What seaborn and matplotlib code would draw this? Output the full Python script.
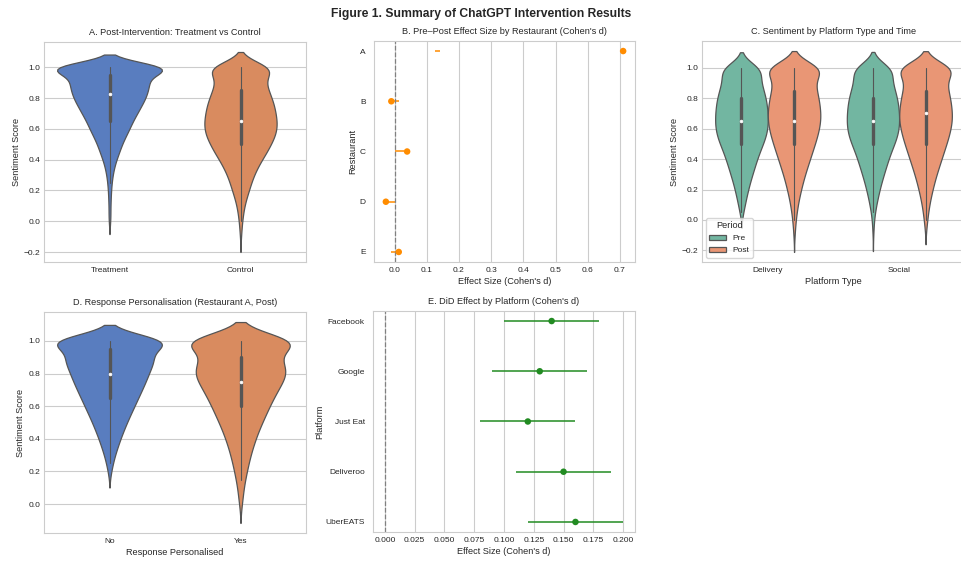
import numpy as np
import pandas as pd
import matplotlib
matplotlib.use("Agg")
import matplotlib.pyplot as plt
import seaborn as sns

# ---------------- data ----------------
# sentiment-score bins (shared by all violin panels)
score_grid = [-0.20, -0.15, -0.10, -0.05, 0.00, 0.05, 0.10, 0.15, 0.20, 0.25,
              0.30, 0.35, 0.40, 0.45, 0.50, 0.55, 0.60, 0.65, 0.70, 0.75,
              0.80, 0.85, 0.90, 0.95, 1.00]

# Panel A (post-intervention): number of reviews per sentiment-score bin
groups_a = ["Treatment", "Control"]
treatment_counts = [0, 0, 0, 0, 3, 3, 3, 4, 5, 7, 10, 15, 22, 32, 40, 52, 65, 75, 90, 103, 118, 125, 132, 120, 270]
control_counts = [0, 0, 1, 2, 3, 5, 7, 11, 16, 20, 25, 32, 40, 50, 57, 65, 69, 69, 66, 64, 59, 53, 47, 44, 87]

# Panel C: platform type x period
platform_types = ["Delivery", "Social"]
periods = ["Pre", "Post"]
pre_delivery_counts = [0, 0, 0, 0, 0, 6, 10, 15, 20, 26, 33, 40, 47, 55, 65, 74, 79, 80, 79, 77, 74, 67, 60, 52, 80]
post_delivery_counts = [0, 0, 2, 3, 5, 8, 11, 16, 21, 27, 33, 41, 48, 56, 63, 71, 76, 81, 81, 78, 75, 70, 62, 60, 135]
pre_social_counts = [0, 0, 1, 2, 3, 6, 10, 15, 20, 26, 33, 40, 47, 55, 65, 74, 79, 80, 79, 77, 74, 67, 60, 52, 80]
post_social_counts = [0, 0, 0, 3, 5, 8, 11, 16, 21, 27, 33, 41, 48, 56, 63, 71, 76, 81, 81, 78, 75, 70, 62, 60, 135]

# Panel D: Restaurant A post, response personalised
groups_d = ["No", "Yes"]
no_counts = [0, 0, 0, 0, 0, 0, 0, 0, 7, 12, 20, 30, 40, 52, 64, 78, 92, 106, 120, 134, 146, 155, 185, 110, 359]
yes_counts = [0, 0, 0, 0, 5, 7, 9, 14, 19, 24, 30, 37, 45, 54, 65, 76, 87, 99, 112, 127, 144, 142, 110, 90, 310]

# Panel B: pre-post effect size by restaurant
restaurants = ["A", "B", "C", "D", "E"]
rest_d = [0.71, -0.01, 0.039, -0.027, 0.013]
rest_ci_low = [0.127, -0.01, 0.0, -0.023, -0.01]
rest_ci_high = [0.140, 0.013, 0.029, 0.0, 0.013]

# Panel E: DiD effect by platform
platforms = ["Facebook", "Google", "Just Eat", "Deliveroo", "UberEATS"]
did_d = [0.14, 0.13, 0.12, 0.15, 0.16]
did_low = [0.10, 0.09, 0.08, 0.11, 0.12]
did_high = [0.18, 0.17, 0.16, 0.19, 0.20]
did_ticks = [0.0, 0.025, 0.05, 0.075, 0.1, 0.125, 0.15, 0.175, 0.2]


def expand(counts):
    return np.repeat(np.array(score_grid), np.array(counts))


# ---------------- style ----------------
sns.set_theme(style="whitegrid")
plt.rcParams["font.family"] = ["Liberation Sans", "DejaVu Sans"]
plt.rcParams.update({
    "font.size": 6, "axes.titlesize": 6.6, "axes.labelsize": 6.6,
    "axes.labelpad": 2.0, "axes.titlepad": 5.0,
    "xtick.labelsize": 6, "ytick.labelsize": 6,
    "legend.fontsize": 6, "legend.title_fontsize": 6.6,
    "axes.linewidth": 0.8, "grid.linewidth": 0.8,
    "xtick.major.size": 0, "ytick.major.size": 0,
    "xtick.major.pad": 3.5, "ytick.major.pad": 2.8,
})

W, H = 962, 562
fig = plt.figure(figsize=(W / 100, H / 100), dpi=100)


def rect(l, t, r, b):
    return [l / W, 1 - b / H, (r - l) / W, (b - t) / H]


axA = fig.add_axes(rect(44, 42, 306, 262))
axB = fig.add_axes(rect(374, 41, 635, 262))
axC = fig.add_axes(rect(702, 41, 965, 262))
axD = fig.add_axes(rect(44, 312, 306, 533))
axE = fig.add_axes(rect(373, 311, 635, 532))

muted = sns.color_palette("muted")
vkw = dict(linewidth=0.9, linecolor="#555555", inner="box",
           inner_kws=dict(box_width=2.4, whis_width=0.8, marker="o"))

# Panel A
dfA = pd.DataFrame({
    "Group": ["Treatment"] * sum(treatment_counts) + ["Control"] * sum(control_counts),
    "Sentiment Score": np.concatenate([expand(treatment_counts), expand(control_counts)]),
})
sns.violinplot(data=dfA, x="Group", y="Sentiment Score", hue="Group", order=groups_a,
               palette=[muted[0], muted[1]], legend=False, bw_method=0.21, common_norm=True,
               density_norm="count", ax=axA, **vkw)
axA.set_title("A. Post-Intervention: Treatment vs Control")
axA.set_xlabel("")

# Panel B
axB.hlines(y=restaurants, xmin=rest_ci_low, xmax=rest_ci_high, color="darkorange", lw=1.1)
sns.scatterplot(x=rest_d, y=restaurants, color="darkorange", s=22, edgecolor="none", ax=axB, zorder=3)
axB.axvline(0, color="gray", ls="--", lw=0.9)
if not axB.yaxis_inverted():
    axB.invert_yaxis()
axB.grid(axis="y", visible=False)
axB.tick_params(axis="y", pad=6)
axB.set_title("B. Pre\u2013Post Effect Size by Restaurant (Cohen's d)")
axB.set_xlabel("Effect Size (Cohen's d)")
axB.set_ylabel("Restaurant")

# Panel C
rowsC = []
for pt, pre_c, post_c in [("Delivery", pre_delivery_counts, post_delivery_counts),
                          ("Social", pre_social_counts, post_social_counts)]:
    for per, c in [("Pre", pre_c), ("Post", post_c)]:
        rowsC.append(pd.DataFrame({"Platform Type": pt, "Period": per, "Sentiment Score": expand(c)}))
dfC = pd.concat(rowsC, ignore_index=True)
sns.violinplot(data=dfC, x="Platform Type", y="Sentiment Score", hue="Period",
               order=platform_types, hue_order=periods, palette="Set2", bw_method=0.22, ax=axC, **vkw)
axC.set_title("C. Sentiment by Platform Type and Time")
axC.legend(title="Period", loc="lower left")

# Panel D
dfD = pd.DataFrame({
    "Response Personalised": ["No"] * sum(no_counts) + ["Yes"] * sum(yes_counts),
    "Sentiment Score": np.concatenate([expand(no_counts), expand(yes_counts)]),
})
sns.violinplot(data=dfD, x="Response Personalised", y="Sentiment Score", hue="Response Personalised",
               order=groups_d, palette=[muted[0], muted[1]], legend=False, bw_method=0.25,
               common_norm=True, density_norm="count", ax=axD, **vkw)
axD.set_title("D. Response Personalisation (Restaurant A, Post)")

# Panel E
axE.hlines(y=platforms, xmin=did_low, xmax=did_high, color="forestgreen", lw=1.1)
sns.scatterplot(x=did_d, y=platforms, color="forestgreen", s=22, edgecolor="none", ax=axE, zorder=3)
axE.axvline(0, color="gray", ls="--", lw=0.9)
if not axE.yaxis_inverted():
    axE.invert_yaxis()
axE.grid(axis="y", visible=False)
axE.tick_params(axis="y", pad=6)
axE.set_xticks(did_ticks)
axE.set_xticklabels([f"{t:.3f}" for t in did_ticks])
axE.set_title("E. DiD Effect by Platform (Cohen's d)")
axE.set_xlabel("Effect Size (Cohen's d)")
axE.set_ylabel("Platform", labelpad=0.5)

fig.suptitle("Figure 1. Summary of ChatGPT Intervention Results", fontsize=8.7, fontweight="bold", y=0.985)

fig.savefig("out.png", dpi=100)
